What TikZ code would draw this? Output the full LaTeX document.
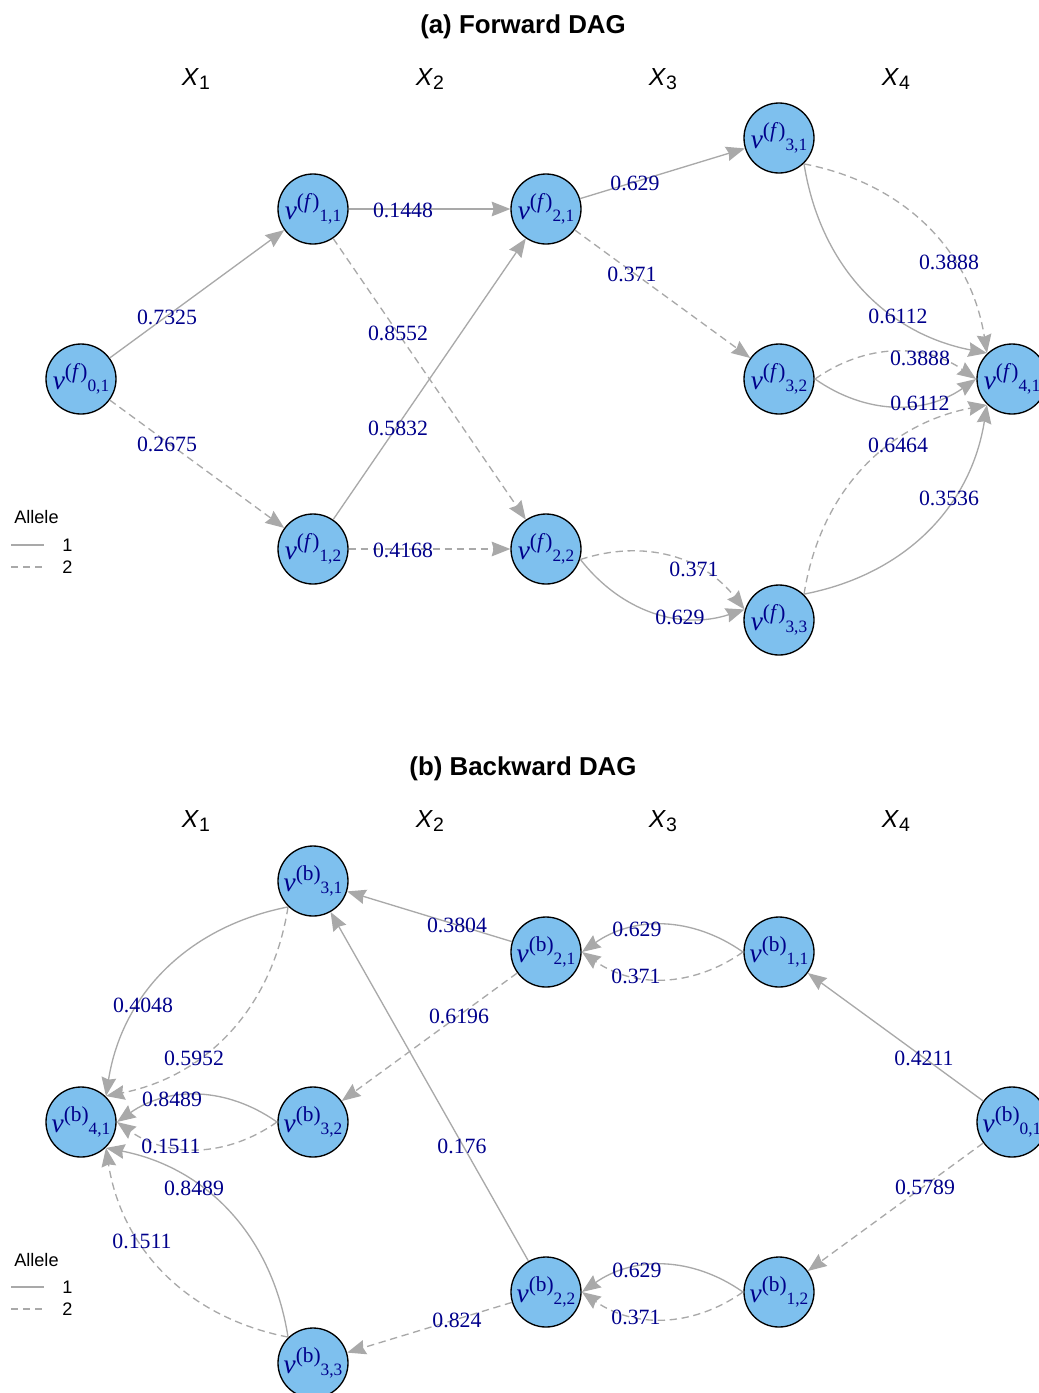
\documentclass[tikz,border=0pt]{standalone}
\usepackage{fontspec}
\setmainfont{Liberation Serif}
\newfontfamily\arialf{Liberation Sans}
\usetikzlibrary{arrows.meta,calc}
\definecolor{nodefill}{RGB}{126,192,238}
\definecolor{edgegray}{RGB}{169,169,169}
\definecolor{lblblue}{RGB}{0,0,139}
\newcommand{\vlab}[2]{{\fontsize{20.5}{21}\selectfont\itshape v}\raisebox{8.2pt}{\fontsize{16}{17}\selectfont #1}\raisebox{-1.9pt}{\fontsize{13}{14}\selectfont #2}}
\newcommand{\xlabtext}[1]{\textit{X}\raisebox{-3pt}{\fontsize{14.6}{15}\selectfont #1}}
\newcommand{\curvepair}[2]{%
  \draw[etwo] ($(#1.center)!27pt!(#2.center)$) to[bend left=35] ($(#2.center)!27pt!(#1.center)$);
  \draw[eone] ($(#1.center)!27pt!(#2.center)$) to[bend right=35] ($(#2.center)!27pt!(#1.center)$);}
\tikzset{
  vert/.style={circle, draw=black, line width=1pt, fill=nodefill, minimum size=52.5pt, inner sep=0pt, text=lblblue},
  eone/.style={draw=edgegray, line width=1pt, -{Stealth[length=14pt,width=11pt,inset=1.5pt]}},
  etwo/.style={eone, dash pattern=on 5.5pt off 3.5pt},
  elbl/.style={text=lblblue, font=\fontsize{16.35}{17}\selectfont, inner sep=0pt},
  ttl/.style={font=\arialf\bfseries\fontsize{19.4}{20}\selectfont, inner sep=0pt},
  xlab/.style={font=\arialf\fontsize{18.5}{19}\selectfont, inner sep=0pt},
  leg/.style={font=\arialf\fontsize{13.6}{14}\selectfont, anchor=west, inner sep=0pt},
  legline/.style={draw=edgegray, line width=1pt}
}
\begin{document}
\begin{tikzpicture}[x=0.75pt,y=-0.75pt]
\useasboundingbox (0,0) rectangle (1039,1393);
% ---------- (a) Forward DAG ----------
\node[ttl] (ta) at (523,27) {(a) Forward DAG};
\node[xlab] (xa1) at (196,79) {\xlabtext{1}};
\node[xlab] (xa2) at (430,79) {\xlabtext{2}};
\node[xlab] (xa3) at (663,79) {\xlabtext{3}};
\node[xlab] (xa4) at (896,79) {\xlabtext{4}};

\node[vert] (f01) at (81,379) {\vlab{(\textit{f})}{0,1}};
\node[vert] (f11) at (313,209) {\vlab{(\textit{f})}{1,1}};
\node[vert] (f12) at (313,549) {\vlab{(\textit{f})}{1,2}};
\node[vert] (f21) at (546,209) {\vlab{(\textit{f})}{2,1}};
\node[vert] (f22) at (546,549) {\vlab{(\textit{f})}{2,2}};
\node[vert] (f31) at (779,138) {\vlab{(\textit{f})}{3,1}};
\node[vert] (f32) at (779,379) {\vlab{(\textit{f})}{3,2}};
\node[vert] (f33) at (779,620) {\vlab{(\textit{f})}{3,3}};
\node[vert] (f41) at (1012,379) {\vlab{(\textit{f})}{4,1}};

\draw[eone] (f01) -- (f11);
\draw[etwo] (f01) -- (f12);
\draw[eone] (f11) -- (f21);
\draw[etwo] (f11) -- (f22);
\draw[eone] (f12) -- (f21);
\draw[etwo] (f12) -- (f22);
\draw[eone] (f21) -- (f31);
\draw[etwo] (f21) -- (f32);
\curvepair{f22}{f33}
\curvepair{f31}{f41}
\curvepair{f32}{f41}
\curvepair{f33}{f41}

\node[elbl] (la1) at (167,317) {0.7325};
\node[elbl] (la2) at (167,444) {0.2675};
\node[elbl] (la3) at (403,210) {0.1448};
\node[elbl] (la4) at (398,333) {0.8552};
\node[elbl] (la5) at (398,428) {0.5832};
\node[elbl] (la6) at (403,550) {0.4168};
\node[elbl] (la7) at (635,183) {0.629};
\node[elbl] (la8) at (632,274) {0.371};
\node[elbl] (la9) at (949,262) {0.3888};
\node[elbl] (la10) at (898,316) {0.6112};
\node[elbl] (la11) at (920,358) {0.3888};
\node[elbl] (la12) at (920,403) {0.6112};
\node[elbl] (la13) at (898,445) {0.6464};
\node[elbl] (la14) at (949,498) {0.3536};
\node[elbl] (la15) at (694,569) {0.371};
\node[elbl] (la16) at (680,617) {0.629};

\node[leg] (ga) at (14,517) {Allele};
\coordinate (ga1s) at (11,545); \coordinate (ga1e) at (44,545);
\coordinate (ga2s) at (11,567); \coordinate (ga2e) at (44,567);
\draw[legline] (ga1s) -- (ga1e);
\draw[legline, dash pattern=on 5.5pt off 3.5pt] (ga2s) -- (ga2e);
\node[leg] (ga1) at (62,545) {1};
\node[leg] (ga2) at (62,567) {2};

% ---------- (b) Backward DAG ----------
\node[ttl] (tb) at (523,769) {(b) Backward DAG};
\node[xlab] (xb1) at (196,821) {\xlabtext{1}};
\node[xlab] (xb2) at (430,821) {\xlabtext{2}};
\node[xlab] (xb3) at (663,821) {\xlabtext{3}};
\node[xlab] (xb4) at (896,821) {\xlabtext{4}};

\node[vert] (b31) at (313,881) {\vlab{(b)}{3,1}};
\node[vert] (b21) at (546,952) {\vlab{(b)}{2,1}};
\node[vert] (b11) at (779,952) {\vlab{(b)}{1,1}};
\node[vert] (b01) at (1012,1122) {\vlab{(b)}{0,1}};
\node[vert] (b41) at (81,1122) {\vlab{(b)}{4,1}};
\node[vert] (b32) at (313,1122) {\vlab{(b)}{3,2}};
\node[vert] (b22) at (546,1292) {\vlab{(b)}{2,2}};
\node[vert] (b12) at (779,1292) {\vlab{(b)}{1,2}};
\node[vert] (b33) at (313,1363) {\vlab{(b)}{3,3}};

\draw[eone] (b01) -- (b11);
\draw[etwo] (b01) -- (b12);
\draw[eone] (b21) -- (b31);
\draw[etwo] (b21) -- (b32);
\draw[eone] (b22) -- (b31);
\draw[etwo] (b22) -- (b33);
\curvepair{b11}{b21}
\curvepair{b12}{b22}
\curvepair{b31}{b41}
\curvepair{b32}{b41}
\curvepair{b33}{b41}

\node[elbl] (lb1) at (637,929) {0.629};
\node[elbl] (lb2) at (636,976) {0.371};
\node[elbl] (lb3) at (924,1058) {0.4211};
\node[elbl] (lb4) at (925,1187) {0.5789};
\node[elbl] (lb5) at (457,925) {0.3804};
\node[elbl] (lb6) at (459,1016) {0.6196};
\node[elbl] (lb7) at (143,1005) {0.4048};
\node[elbl] (lb8) at (194,1058) {0.5952};
\node[elbl] (lb9) at (172,1099) {0.8489};
\node[elbl] (lb10) at (171,1146) {0.1511};
\node[elbl] (lb11) at (462,1146) {0.176};
\node[elbl] (lb12) at (194,1188) {0.8489};
\node[elbl] (lb13) at (142,1241) {0.1511};
\node[elbl] (lb14) at (457,1320) {0.824};
\node[elbl] (lb15) at (637,1270) {0.629};
\node[elbl] (lb16) at (636,1317) {0.371};

\node[leg] (gb) at (14,1260) {Allele};
\coordinate (gb1s) at (11,1287); \coordinate (gb1e) at (44,1287);
\coordinate (gb2s) at (11,1309); \coordinate (gb2e) at (44,1309);
\draw[legline] (gb1s) -- (gb1e);
\draw[legline, dash pattern=on 5.5pt off 3.5pt] (gb2s) -- (gb2e);
\node[leg] (gb1) at (62,1287) {1};
\node[leg] (gb2) at (62,1309) {2};
\end{tikzpicture}
\end{document}
